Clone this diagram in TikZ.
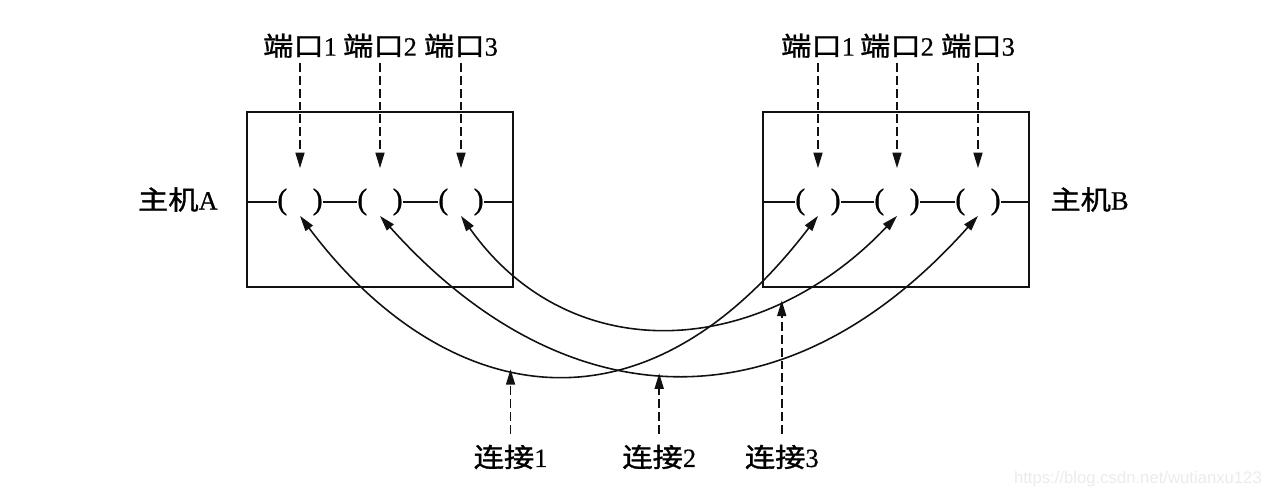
\documentclass[tikz,border=0pt]{standalone}
\usepackage{fontspec}
\setmainfont{Liberation Serif}[FakeBold=0.6]
\setsansfont{Liberation Sans}
\newfontfamily\cjk[FakeStretch=1.15,FakeBold=1.2]{Noto Sans CJK SC}
\usetikzlibrary{arrows.meta,positioning,calc}
\definecolor{netdark}{HTML}{111111}
\definecolor{netmark}{HTML}{EBEBEB}
\newcommand{\zh}[1]{{\cjk #1}}
\tikzset{
  host/.style={draw=netdark,line width=1.2pt,minimum width=5.32cm,minimum height=3.5cm},
  port/.style={inner sep=0pt,font=\fontsize{17}{17}\selectfont},
  lbl/.style={inner sep=0pt,font=\fontsize{15}{18}\selectfont},
  wire/.style={draw=netdark,line width=0.8pt},
  conn/.style={{Triangle[length=3.1mm,width=1.8mm]}-{Triangle[length=3.1mm,width=1.8mm]},draw=netdark,line width=0.9pt},
  tag/.style={-{Triangle[length=3.1mm,width=1.8mm]},draw=netdark,line width=0.9pt,dash pattern=on 5pt off 2.3pt},
}

\begin{document}
\begin{tikzpicture}[x=0.02cm,y=-0.02cm]
  \useasboundingbox (0,0) rectangle (1278,498);
  % hosts
  \node[host] (hostA) at (380,199.5) {};
  \node[host] (hostB) at (896,199.5) {};
  \node[lbl,left=5.6mm of hostA] (nameA) {\zh{主机}A};
  \node[lbl,right=4mm of hostB] (nameB) {\zh{主机}B};
  % ports
  \node[port] (pA1) at (300,202) {(\hspace{0.85em})};
  \node[port] (pA2) at (380,202) {(\hspace{0.85em})};
  \node[port] (pA3) at (461,202) {(\hspace{0.85em})};
  \node[port] (pB1) at (818,202) {(\hspace{0.85em})};
  \node[port] (pB2) at (897,202) {(\hspace{0.85em})};
  \node[port] (pB3) at (978,202) {(\hspace{0.85em})};
  \draw[wire] (hostA.west |- pA1) -- (pA1);
  \draw[wire] (pA1) -- (pA2);
  \draw[wire] (pA2) -- (pA3);
  \draw[wire] (pA3) -- (hostA.east |- pA3);
  \draw[wire] (hostB.west |- pB1) -- (pB1);
  \draw[wire] (pB1) -- (pB2);
  \draw[wire] (pB2) -- (pB3);
  \draw[wire] (pB3) -- (hostB.east |- pB3);
  % port labels
  \node[lbl,above=26mm of pA1] (tA1) {\zh{端口}1};
  \node[lbl,above=26mm of pA2] (tA2) {\zh{端口}2};
  \node[lbl,above=26mm of pA3] (tA3) {\zh{端口}3};
  \node[lbl,above=26mm of pB1] (tB1) {\zh{端口}1};
  \node[lbl,above=26mm of pB2] (tB2) {\zh{端口}2};
  \node[lbl,above=26mm of pB3] (tB3) {\zh{端口}3};
  \foreach \p in {A1,A2,A3,B1,B2,B3}
    \draw[tag,shorten <=1mm,shorten >=4mm] (t\p) -- (p\p);
  % connections
  \draw[conn] (pA1.south) .. controls (430,390) and (630,462) .. (pB1.south) coordinate[pos=0.45] (c1);
  \draw[conn] (pA2.south) .. controls (558,415) and (780,438) .. (pB3.south) coordinate[pos=0.48] (c2);
  \draw[conn] (pA3.south) .. controls (570,370) and (760,360) .. (pB2.south) coordinate[pos=0.74] (c3);
  \node[lbl] (k1) at (c1 |- 0,457) {\zh{连接}1};
  \node[lbl] (k2) at (c2 |- 0,457) {\zh{连接}2};
  \node[lbl] (k3) at (c3 |- 0,457) {\zh{连接}3};
  \draw[tag,shorten <=2.2mm] (k1) -- (c1);
  \draw[tag,shorten <=2.2mm] (k2) -- (c2);
  \draw[tag,shorten <=2.2mm] (k3) -- (c3);
  \node[font=\sffamily\fontsize{9.5}{10}\selectfont,text=netmark,anchor=east] (mark) at (1268,479) {https://blog.csdn.net/wutianxu123};
\end{tikzpicture}
\end{document}
